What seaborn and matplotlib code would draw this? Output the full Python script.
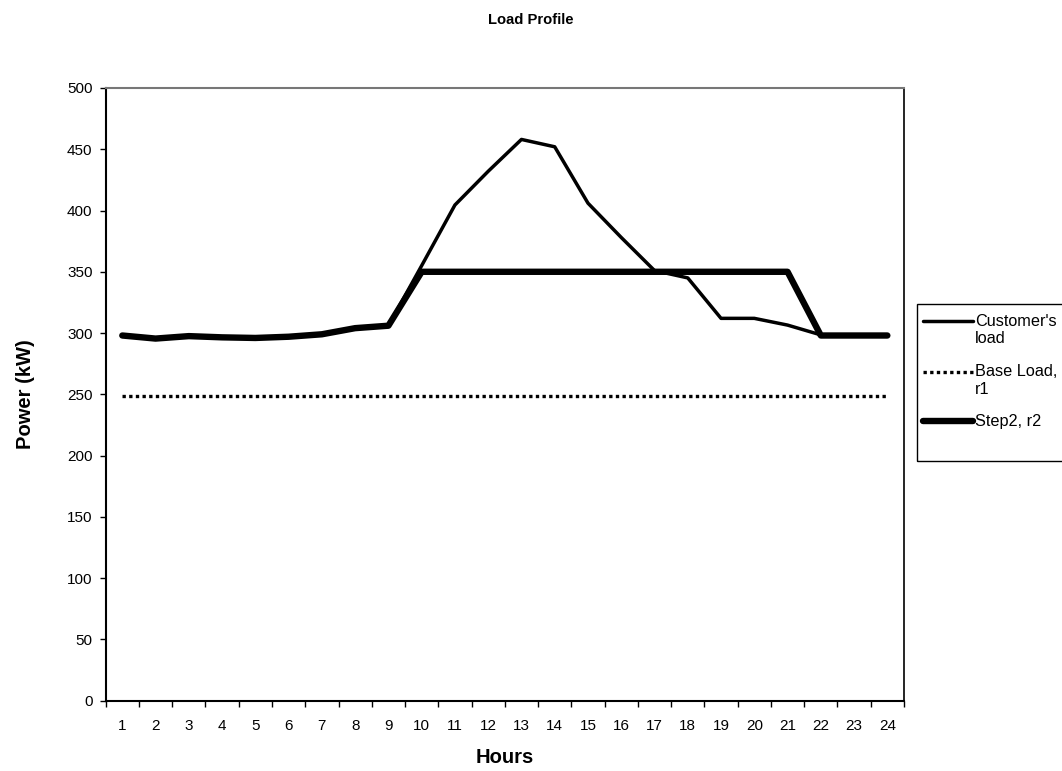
import matplotlib
matplotlib.use("Agg")
import matplotlib.pyplot as plt
from matplotlib.legend_handler import HandlerLine2D
from matplotlib.patches import Rectangle
import numpy as np
import pandas as pd
import seaborn as sns

# Datos
hours = list(range(1, 25))
customer_load = [298, 295.5, 297.5, 296.5, 296, 297, 299, 304, 306,
                 355, 404.5, 432, 458, 452, 406, 378, 351, 345,
                 312, 312, 306.5, 298.5, 298.5, 298.5]
base_load = [249] * 24
step2 = [298, 295.5, 297.5, 296.5, 296, 297, 299, 304, 306,
         350, 350, 350, 350, 350, 350, 350, 350, 350,
         350, 350, 350, 298, 298, 298]

df = pd.DataFrame({"Hours": hours, "Customer": customer_load,
                   "Base": base_load, "Step2": step2})

sns.set_style("white")
plt.rcParams["font.family"] = ["Liberation Sans", "DejaVu Sans"]
for k in ["text.color", "axes.labelcolor", "xtick.color", "ytick.color"]:
    plt.rcParams[k] = "black"


# la linea de la leyenda va a la altura de la primera linea del texto
class HandlerTop(HandlerLine2D):
    def create_artists(self, legend, orig_handle, xdescent, ydescent,
                       width, height, fontsize, trans):
        return super().create_artists(legend, orig_handle, xdescent, ydescent - 13,
                                      width, height, fontsize, trans)


fig = plt.figure(figsize=(10.62, 7.71), dpi=100)
ax = fig.add_axes([0.0995, 0.0912, 0.7517, 0.7947])

# Linea gruesa primero, la del cliente encima
sns.lineplot(data=df, x="Hours", y="Step2", ax=ax, color="black", linewidth=4.6,
             label="Step2, r2", zorder=2)
sns.lineplot(data=df, x="Hours", y="Base", ax=ax, color="black", linewidth=2.4,
             linestyle=(0, (1, 1)), label="Base Load,\nr1", zorder=3)
sns.lineplot(data=df, x="Hours", y="Customer", ax=ax, color="black", linewidth=2.5,
             label="Customer's\nload", zorder=4)

ax.set_xlim(0.5, 24.5)
ax.set_ylim(0, 500)
ax.set_xticks(hours)
ax.set_xticks(np.arange(0.5, 25, 1), minor=True)
ax.tick_params(axis="x", which="major", length=0, pad=13.5, labelsize=11)
ax.tick_params(axis="x", which="minor", length=4, width=1, direction="out", color="black")
ax.set_yticks(range(0, 501, 50))
ax.tick_params(axis="y", length=4, width=1, direction="out", color="black", labelsize=11, pad=5.5)
ax.tick_params(bottom=True, left=True, which="both")

for s in ["left", "bottom"]:
    ax.spines[s].set_color("black")
    ax.spines[s].set_linewidth(1.5)
ax.spines["top"].set_color("#777777")
ax.spines["top"].set_linewidth(1.5)
ax.spines["right"].set_color("black")
ax.spines["right"].set_linewidth(1.2)

ax.set_xlabel("Hours", fontsize=14.5, fontweight="bold", va="center")
ax.set_ylabel("Power (kW)", fontsize=14.5, fontweight="bold", va="center")
ax.xaxis.set_label_coords(0.5, -0.092)
ax.yaxis.set_label_coords(-0.101, 0.5)
fig.text(0.5, 1 - 20 / 771, "Load Profile", ha="center", va="center",
         fontsize=10.6, fontweight="bold")

handles, labels = ax.get_legend_handles_labels()
order = [2, 1, 0]
hmap = {handles[2]: HandlerTop(), handles[1]: HandlerTop()}
leg = ax.legend([handles[i] for i in order], [labels[i] for i in order],
                loc="upper left", bbox_to_anchor=(914 / 1062, 1 - 305 / 771),
                bbox_transform=fig.transFigure, borderaxespad=0,
                frameon=False, fontsize=11.7, handlelength=3.1, handletextpad=0.12,
                labelspacing=1.1, borderpad=0.55, handler_map=hmap)

# marco de la leyenda, cortado por el borde derecho como en el original
fig.patches.append(Rectangle((917 / 1062, 1 - 461 / 771), 0.2, 157 / 771,
                             transform=fig.transFigure, fill=False,
                             edgecolor="black", linewidth=1.0))

fig.savefig("out.png", dpi=100)
